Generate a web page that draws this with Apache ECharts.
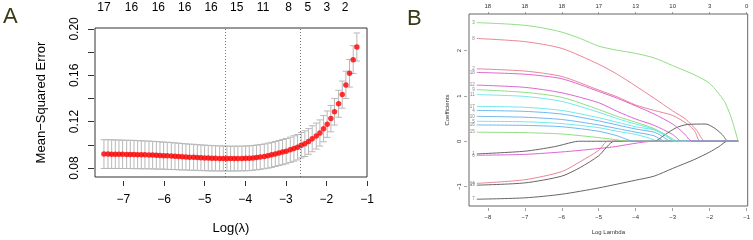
<!DOCTYPE html>
<html>
<head>
<meta charset="utf-8">
<script src="https://cdn.jsdelivr.net/npm/echarts@6/dist/echarts.min.js"></script>
<style>
  html, body { margin: 0; padding: 0; background: #fff; }
  #chart { width: 753px; height: 240px; }
</style>
</head>
<body>
<div id="chart"></div>
<script>
// ---- panel A: cross-validation curve ----
const logLambda = [
  -7.48, -7.38, -7.29, -7.20, -7.11, -7.02, -6.92, -6.83, -6.74, -6.65,
  -6.56, -6.47, -6.37, -6.28, -6.19, -6.10, -6.01, -5.92, -5.82, -5.73,
  -5.64, -5.55, -5.46, -5.37, -5.27, -5.18, -5.09, -5.00, -4.91, -4.82,
  -4.73, -4.63, -4.54, -4.45, -4.36, -4.27, -4.18, -4.08, -3.99, -3.90,
  -3.81, -3.72, -3.63, -3.53, -3.44, -3.35, -3.26, -3.17, -3.08, -2.99,
  -2.89, -2.80, -2.71, -2.62, -2.53, -2.44, -2.35, -2.25, -2.16, -2.07,
  -1.98, -1.89, -1.80, -1.70, -1.61, -1.52, -1.43, -1.34, -1.25
]
const cvMean = [
  0.0920, 0.0920, 0.0919, 0.0919, 0.0918, 0.0918, 0.0917, 0.0917, 0.0916, 0.0915,
  0.0914, 0.0913, 0.0912, 0.0911, 0.0909, 0.0908, 0.0906, 0.0905, 0.0903, 0.0901,
  0.0899, 0.0897, 0.0895, 0.0893, 0.0892, 0.0890, 0.0888, 0.0887, 0.0885, 0.0884,
  0.0883, 0.0882, 0.0882, 0.0881, 0.0881, 0.0881, 0.0881, 0.0882, 0.0883, 0.0884,
  0.0887, 0.0891, 0.0895, 0.0900, 0.0906, 0.0913, 0.0921, 0.0929, 0.0937, 0.0945,
  0.0957, 0.0968, 0.0979, 0.0996, 0.1010, 0.1029, 0.1052, 0.1075, 0.1102, 0.1139,
  0.1178, 0.1226, 0.1285, 0.1354, 0.1433, 0.1517, 0.1617, 0.1735, 0.1844
]
const cvSe = [
  0.0124, 0.0124, 0.0124, 0.0123, 0.0123, 0.0123, 0.0122, 0.0122, 0.0122, 0.0121,
  0.0121, 0.0120, 0.0120, 0.0119, 0.0119, 0.0118, 0.0117, 0.0117, 0.0116, 0.0115,
  0.0115, 0.0114, 0.0113, 0.0113, 0.0112, 0.0111, 0.0111, 0.0110, 0.0110, 0.0109,
  0.0109, 0.0108, 0.0108, 0.0108, 0.0107, 0.0107, 0.0107, 0.0107, 0.0107, 0.0107,
  0.0107, 0.0107, 0.0107, 0.0107, 0.0108, 0.0108, 0.0108, 0.0108, 0.0109, 0.0109,
  0.0109, 0.0110, 0.0110, 0.0110, 0.0111, 0.0111, 0.0112, 0.0112, 0.0113, 0.0113,
  0.0114, 0.0114, 0.0115, 0.0116, 0.0117, 0.0118, 0.0119, 0.0120, 0.0121
]
const lambdaLines = [-4.49, -2.64]
const topAtA = [-7.48, -6.80, -6.14, -5.49, -4.84, -4.21, -3.56, -2.93, -2.46, -1.99, -1.54]
const topDfA = [17, 16, 16, 16, 16, 15, 11, 8, 5, 3, 2]
const xTicksA = [-7, -6, -5, -4, -3, -2, -1]
const yTicksA = [0.08, 0.10, 0.12, 0.14, 0.16, 0.18, 0.20]
const yLabelsA = [0.08, 0.12, 0.16, 0.20]

// ---- panel B: coefficient paths (one array per variable) ----
const path1 = [[-8.3, -0.28], [-7, -0.22], [-6.2, -0.12], [-5.7, -0.02], [-5.55, 0], [-1.23, 0]]
const path2 = [[-8.3, 1.60], [-7, 1.55], [-6, 1.43], [-5, 1.13], [-4.5, 0.98], [-4, 0.80], [-3.5, 0.68], [-3, 0.57], [-2.6, 0.38], [-2.4, 0.22], [-2.25, 0], [-1.23, 0]]
const path3 = [[-8.3, 2.62], [-7.5, 2.59], [-7, 2.56], [-6.5, 2.50], [-6, 2.41], [-5.5, 2.27], [-5, 2.10], [-4.5, 2.01], [-4, 1.94], [-3.5, 1.84], [-3, 1.67], [-2.5, 1.50], [-2.2, 1.38], [-2, 1.28], [-1.8, 1.10], [-1.6, 0.88], [-1.45, 0.60], [-1.35, 0.35], [-1.23, 0]]
const path4 = [[-8.3, 0.68], [-7, 0.66], [-6, 0.60], [-5, 0.45], [-4.5, 0.36], [-4, 0.27], [-3.5, 0.20], [-3.3, 0.12], [-3.05, 0], [-1.23, 0]]
const path5 = [[-8.3, 0.44], [-7, 0.43], [-6, 0.39], [-5, 0.30], [-4.5, 0.22], [-4, 0.15], [-3.6, 0.06], [-3.4, 0], [-1.23, 0]]
const path6 = [[-8.3, -0.31], [-7, -0.29], [-5.9, -0.23], [-4.66, -0.13], [-3.5, 0], [-1.23, 0]]
const path7 = [[-8.3, -1.28], [-7, -1.25], [-6, -1.17], [-5, -1.03], [-4, -0.86], [-3.5, -0.77], [-3, -0.60], [-2.43, -0.41], [-2, -0.24], [-1.75, -0.12], [-1.52, 0], [-1.23, 0]]
const path8 = [[-8.3, 2.27], [-7, 2.20], [-6, 2.05], [-5, 1.70], [-4.5, 1.48], [-4, 1.22], [-3.5, 0.95], [-3, 0.67], [-2.65, 0.49], [-2.35, 0.24], [-2.12, 0], [-1.23, 0]]
const path9 = [[-8.3, 1.14], [-7, 1.08], [-6, 0.97], [-5, 0.70], [-4.5, 0.55], [-4, 0.42], [-3.5, 0.28], [-3.1, 0.10], [-2.85, 0], [-1.23, 0]]
const path10 = [[-8.3, 0.55], [-7, 0.53], [-6, 0.48], [-5, 0.36], [-4.5, 0.28], [-4, 0.20], [-3.5, 0.12], [-3.2, 0], [-1.23, 0]]
const path11 = [[-8.3, 1.03], [-7, 0.99], [-6, 0.88], [-5, 0.64], [-4.5, 0.50], [-4, 0.38], [-3.5, 0.26], [-3.2, 0.12], [-2.9, 0], [-1.23, 0]]
const path12 = [[-8.3, 1.24], [-7, 1.19], [-6, 1.07], [-5, 0.85], [-4.5, 0.66], [-4, 0.49], [-3.5, 0.35], [-3, 0.15], [-2.75, 0], [-1.23, 0]]
const path13 = [[-8.3, -0.97], [-7, -0.92], [-6, -0.77], [-5.5, -0.58], [-5, -0.32], [-4.57, 0], [-3.5, 0], [-3.2, 0.15], [-2.9, 0.30], [-2.6, 0.37], [-2.1, 0.38], [-1.85, 0.28], [-1.65, 0.14], [-1.5, 0], [-1.23, 0]]
const path14 = [[-8.3, -0.93], [-7, -0.85], [-6, -0.67], [-5.5, -0.45], [-5, -0.20], [-4.75, 0], [-1.23, 0]]
const path15 = [[-8.3, 0.20], [-7, 0.19], [-6, 0.16], [-5, 0.08], [-4.5, 0.03], [-4.25, 0], [-1.23, 0]]
const path16 = [[-8.3, 0.36], [-7, 0.35], [-6, 0.32], [-5, 0.22], [-4.5, 0.12], [-4.2, 0.03], [-4.05, 0], [-1.23, 0]]
const path17 = [[-8.3, 0.77], [-7, 0.75], [-6, 0.68], [-5, 0.52], [-4.5, 0.42], [-4, 0.32], [-3.5, 0.25], [-3.2, 0.15], [-2.95, 0], [-1.23, 0]]
const path18 = [[-8.3, 1.52], [-7, 1.48], [-6, 1.38], [-5, 1.10], [-4.5, 0.95], [-4, 0.78], [-3.5, 0.60], [-3, 0.38], [-2.7, 0.18], [-2.47, 0], [-1.23, 0]]
const coefPaths = [path1, path2, path3, path4, path5, path6, path7, path8, path9,
  path10, path11, path12, path13, path14, path15, path16, path17, path18]
const xTicksB = [-8, -7, -6, -5, -4, -3, -2, -1]
const topDfB = [18, 18, 18, 17, 13, 10, 3, 0]
const yTicksB = [-1, 0, 1, 2]

// R default palette 1:6 (drawn thin, so a bit lighter)
const palette = ['#555555', '#E5788A', '#86D977', '#5DB0EC', '#5FE6E8', '#D955CC']
const minus = v => String(v).replace('-', '\u2212')

const chart = echarts.init(document.getElementById('chart'))

const errBars = logLambda.map((x, i) => [x, cvMean[i] - cvSe[i], cvMean[i] + cvSe[i]])

const pathSeries = coefPaths.map((p, i) => ({
  type: 'line',
  xAxisIndex: 2,
  yAxisIndex: 1,
  data: p,
  showSymbol: false,
  symbol: 'none',
  smooth: 0.25,
  silent: true,
  lineStyle: { color: palette[i % 6], width: 0.9 },
  z: 3
}))

const option = {
  animation: false,
  textStyle: { fontFamily: 'Liberation Sans, Arial, sans-serif' },
  graphic: [
    { type: 'text', left: 3, top: 6, style: { text: 'A', fontSize: 22, fill: '#3a3a12', fontFamily: 'Liberation Sans' } },
    { type: 'text', left: 407, top: 8, style: { text: 'B', fontSize: 22, fill: '#3a3a12', fontFamily: 'Liberation Sans' } }
  ],
  grid: [
    { left: 95, top: 28, width: 272, height: 153, show: true, borderColor: '#333', borderWidth: 1, backgroundColor: 'transparent' },
    { left: 469, top: 14, width: 282, height: 195, show: true, borderColor: '#666', borderWidth: 1, backgroundColor: 'transparent' }
  ],
  xAxis: [
    {
      gridIndex: 0, type: 'value', min: -7.70, max: -1.0, offset: 4,
      name: 'Log(\u03bb)', nameLocation: 'middle', nameGap: 41,
      nameTextStyle: { fontSize: 13, color: '#000' },
      axisLine: { show: false, onZero: false }, splitLine: { show: false },
      axisTick: { show: true, length: 5, customValues: xTicksA, lineStyle: { color: '#333' } },
      axisLabel: { customValues: xTicksA, fontSize: 12, color: '#000', margin: 13, formatter: minus }
    },
    {
      gridIndex: 0, type: 'value', position: 'top', min: -7.70, max: -1.0,
      axisLine: { show: false, onZero: false }, splitLine: { show: false }, axisTick: { show: false },
      axisLabel: {
        customValues: topAtA, fontSize: 12, color: '#000', margin: 14,
        formatter: v => topDfA[topAtA.indexOf(v)]
      }
    },
    {
      gridIndex: 1, type: 'value', min: -8.51, max: -0.97, offset: 2,
      name: 'Log Lambda', nameLocation: 'middle', nameGap: 21,
      nameTextStyle: { fontSize: 6, color: '#333' },
      axisLine: { show: false, onZero: false }, splitLine: { show: false },
      axisTick: { show: true, length: 3, customValues: xTicksB, lineStyle: { color: '#666', width: 0.6 } },
      axisLabel: { customValues: xTicksB, fontSize: 6, color: '#333', margin: 6, formatter: minus }
    },
    {
      gridIndex: 1, type: 'value', position: 'top', min: -8.51, max: -0.97,
      axisLine: { show: false, onZero: false }, splitLine: { show: false },
      axisTick: { show: true, length: 2, customValues: xTicksB, lineStyle: { color: '#666', width: 0.6 } },
      axisLabel: {
        customValues: xTicksB, fontSize: 6, color: '#333', margin: 5,
        formatter: v => topDfB[xTicksB.indexOf(v)]
      }
    }
  ],
  yAxis: [
    {
      gridIndex: 0, type: 'value', min: 0.0722, max: 0.2008, offset: 1,
      name: 'Mean\u2212Squared Error', nameLocation: 'middle', nameGap: 46, nameRotate: 90,
      nameTextStyle: { fontSize: 13, color: '#000' },
      axisLine: { show: false, onZero: false }, splitLine: { show: false },
      axisTick: { show: true, length: 6, customValues: yTicksA, lineStyle: { color: '#333' } },
      axisLabel: { customValues: yLabelsA, rotate: 90, fontSize: 12, color: '#000', margin: 13, formatter: v => v.toFixed(2) }
    },
    {
      gridIndex: 1, type: 'value', min: -1.43, max: 2.81, offset: 2,
      name: 'Coefficients', nameLocation: 'middle', nameGap: 17, nameRotate: 90,
      nameTextStyle: { fontSize: 6, color: '#333' },
      axisLine: { show: false, onZero: false }, splitLine: { show: false },
      axisTick: { show: true, length: 3, customValues: yTicksB, lineStyle: { color: '#666', width: 0.6 } },
      axisLabel: { customValues: yTicksB, rotate: 90, fontSize: 6, color: '#333', margin: 5, formatter: minus }
    }
  ],
  series: [
    {
      type: 'custom',
      xAxisIndex: 0, yAxisIndex: 0,
      data: errBars,
      encode: { x: 0, y: [1, 2] },
      silent: true,
      renderItem: (params, api) => {
        const x = api.value(0)
        const top = api.coord([x, api.value(2)])
        const bot = api.coord([x, api.value(1)])
        const w = 3.3
        const style = { stroke: '#b8b8b8', lineWidth: 1 }
        return {
          type: 'group',
          children: [
            { type: 'line', shape: { x1: top[0], y1: top[1], x2: bot[0], y2: bot[1] }, style },
            { type: 'line', shape: { x1: top[0] - w, y1: top[1], x2: top[0] + w, y2: top[1] }, style },
            { type: 'line', shape: { x1: bot[0] - w, y1: bot[1], x2: bot[0] + w, y2: bot[1] }, style }
          ]
        }
      }
    },
    {
      type: 'scatter',
      xAxisIndex: 0, yAxisIndex: 0,
      data: logLambda.map((x, i) => [x, cvMean[i]]),
      symbolSize: 5.5,
      itemStyle: { color: '#ff0000' },
      silent: true,
      z: 4,
      markLine: {
        silent: true,
        symbol: 'none',
        label: { show: false },
        lineStyle: { color: '#555', type: [1, 2], width: 0.8 },
        data: lambdaLines.map(v => ({ xAxis: v }))
      }
    },
    ...pathSeries,
    {
      type: 'scatter',
      xAxisIndex: 2, yAxisIndex: 1,
      data: coefPaths.map((p, i) => [p[0][0], p[0][1], i + 1]),
      symbolSize: 0,
      itemStyle: { color: 'transparent' },
      silent: true,
      labelLayout: { hideOverlap: false },
      label: {
        show: true, position: 'left', distance: 2, fontSize: 4.5, color: '#666',
        formatter: p => p.value[2]
      }
    }
  ]
}

chart.setOption(option)
window.addEventListener('resize', () => chart.resize())
</script>
</body>
</html>
